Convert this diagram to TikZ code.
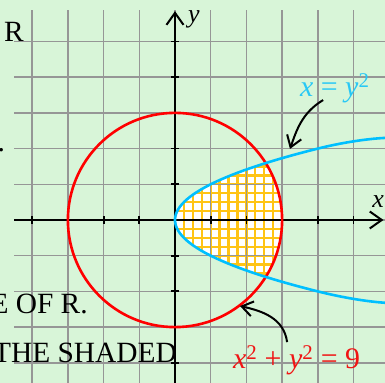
\documentclass[tikz,border=0pt]{standalone}
\usepackage{fontspec}
\setmainfont{Liberation Serif}
\usetikzlibrary{arrows.meta}
\definecolor{bggreen}{RGB}{216,245,216}
\definecolor{gridgray}{RGB}{150,150,150}
\definecolor{curvecyan}{RGB}{0,191,255}
\definecolor{labelcyan}{RGB}{40,200,245}
\definecolor{shadeorange}{RGB}{255,196,20}
\definecolor{circlered}{RGB}{255,0,0}
\definecolor{labelred}{RGB}{240,20,20}
\begin{document}
\begin{tikzpicture}[x=35.7bp,y=35.7bp,
  gridline/.style={gridgray, line width=1.5bp},
  axisline/.style={black, line width=2bp},
  axisarrow/.style={axisline, -{Straight Barb[length=12bp,width=17bp]}},
  tickmark/.style={black, line width=1.8bp},
  pointer/.style={black, line width=2bp, -{Straight Barb[length=11bp,width=15bp]}},
  hatchline/.style={shadeorange, line width=2.3bp},
  curveline/.style={line width=2.6bp},
  bigtext/.style={inner sep=0pt, font=\fontsize{29.5}{33}\selectfont},
  mathlabel/.style={inner sep=0pt, font=\fontsize{30}{34}\selectfont},
  axislabel/.style={inner sep=0pt, font=\fontsize{26}{30}\selectfont\itshape}]
\useasboundingbox[fill=bggreen] (-4.902,-4.566) rectangle (5.882,6.162);
% shaded region
\begin{scope}
  \clip plot[domain=-1.594:1.594, samples=40] ({\x*\x},\x) arc[start angle=32.1, end angle=-32.1, radius=3] -- cycle;
  \fill[white] (0,-2) rectangle (3.1,2);
  \foreach \k in {0,...,13} \draw[hatchline] (\k*0.25,-2) -- (\k*0.25,2);
  \foreach \k in {-8,...,8} \draw[hatchline] (0,\k*0.25) -- (3.1,\k*0.25);
\end{scope}
% grid
\foreach \i in {-4,...,5} \draw[gridline] (\i,-4.6) -- (\i,5.88);
\foreach \j in {-4,...,5} \draw[gridline] (-4.5,\j) -- (5.9,\j);
% axes
\coordinate (xs) at (-4.5,0);
\coordinate (xe) at (5.84,0);
\coordinate (ys) at (0,-4.6);
\coordinate (ye) at (0,5.85);
\draw[axisarrow] (xs) -- (xe);
\draw[axisarrow] (ys) -- (ye);
\foreach \i in {-4,-3,-2,-1,1,2,3,4,5} \draw[tickmark] (\i,-0.1) -- (\i,0.1);
\foreach \j in {-4,-3,-2,-1,1,2,3,4,5} \draw[tickmark] (-0.12,\j) -- (0.12,\j);
% circle
\draw[curveline, circlered] (0,0) circle[radius=3];
% parabola
\draw[curveline, curvecyan] (5.9,-2.32) .. controls (5.3,-2.28) and (4.6,-2.15) .. (4,-2)
  -- plot[domain=-2:2, samples=60] ({\x*\x},\x)
  .. controls (4.6,2.15) and (5.3,2.27) .. (5.9,2.3);
% labels
\node[axislabel, anchor=base west] (ylab) at (0.36,5.52) {y};
\node[axislabel, anchor=base west] (xlab) at (5.52,0.34) {x};
\node[mathlabel, text=labelcyan, anchor=base west] (parlab) at (3.50,3.47) {\textit{x} = \textit{y}\textsuperscript{2}};
\node[mathlabel, text=labelred, anchor=base west] (cirlab) at (1.62,-4.17) {\textit{x}\textsuperscript{2} + \textit{y}\textsuperscript{2} = 9};
% pointers
\coordinate (a1s) at (4.15,3.36);
\coordinate (a1e) at (3.22,1.99);
\coordinate (a2s) at (3.14,-3.42);
\coordinate (a2e) at (1.82,-2.41);
\draw[pointer] (a1s) .. controls (3.55,3.0) and (3.4,2.5) .. (a1e);
\draw[pointer] (a2s) .. controls (3.05,-2.75) and (2.45,-2.55) .. (a2e);
% cut-off slide text
\node[bigtext, anchor=base east] (tR) at (-4.23,4.99) {R};
\node[bigtext, anchor=base east] (tdot) at (-4.76,1.905) {.};
\node[bigtext, anchor=base east] (tof) at (-2.44,-2.61) {E OF R.};
\node[bigtext, anchor=base east] (tshade) at (0.056,-4.0) {THE SHADED};
\end{tikzpicture}
\end{document}
